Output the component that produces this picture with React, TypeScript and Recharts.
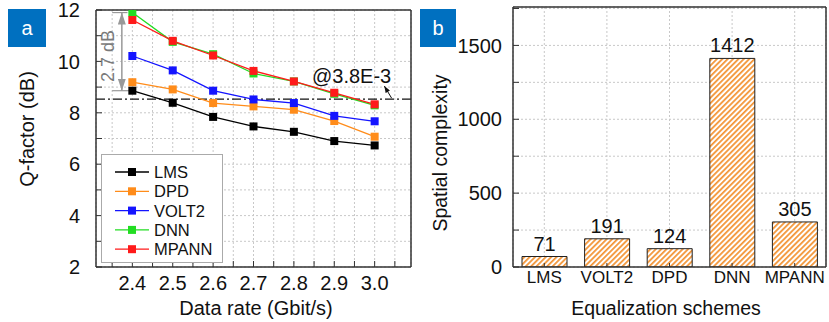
import React from 'react';
import {
  LineChart, Line, BarChart, Bar, XAxis, YAxis, CartesianGrid,
  ReferenceLine, ReferenceDot, LabelList,
} from 'recharts';

const FONT = 'Arial, "Liberation Sans", sans-serif';
const AXIS = '#333';
const GRID = '#c8c8c8';

// panel a: Q-factor vs data rate
const rates = [2.4, 2.5, 2.6, 2.7, 2.8, 2.9, 3.0];
const lms = [8.86, 8.39, 7.84, 7.47, 7.26, 6.9, 6.73];
const dpd = [9.19, 8.91, 8.38, 8.25, 8.12, 7.68, 7.07];
const volt2 = [10.21, 9.65, 8.86, 8.52, 8.38, 7.88, 7.67];
const dnn = [11.9, 10.76, 10.28, 9.53, 9.22, 8.74, 8.29];
const mpann = [11.61, 10.8, 10.23, 9.63, 9.22, 8.78, 8.33];
const threshold = 8.53;

const rateTicks = [2.35, 2.4, 2.45, 2.5, 2.55, 2.6, 2.65, 2.7, 2.75, 2.8, 2.85, 2.9, 2.95, 3.0, 3.05];
const qTicks = [2, 3, 4, 5, 6, 7, 8, 9, 10, 11, 12];

const series = [
  { name: 'LMS', values: lms, color: '#000000' },
  { name: 'DPD', values: dpd, color: '#ff8c1a' },
  { name: 'VOLT2', values: volt2, color: '#1414ff' },
  { name: 'DNN', values: dnn, color: '#22dd22' },
  { name: 'MPANN', values: mpann, color: '#ff1a1a' },
];

// panel b: spatial complexity
const schemes = ['LMS', 'VOLT2', 'DPD', 'DNN', 'MPANN'];
const complexity = [71, 191, 124, 1412, 305];
const complexityTicks = [0, 250, 500, 750, 1000, 1250, 1500, 1750];

const lineData = rates.map((r, i) => {
  const row: Record<string, number> = { rate: r };
  series.forEach((s) => { row[s.name] = s.values[i]; });
  return row;
});
const barData = schemes.map((s, i) => ({ scheme: s, value: complexity[i] }));

const fmtRate = (v: number) => (Math.round(v * 100) % 10 === 0 ? v.toFixed(1) : '');
const fmtQ = (v: number) => (v % 2 === 0 ? String(v) : '');
const fmtC = (v: number) => (v % 500 === 0 ? String(v) : '');

const squareDot = (color: string) => (p: any) => (
  <rect key={`${color}-${p.index}`} x={p.cx - 4} y={p.cy - 4} width={8} height={8} fill={color} />
);

const tickStyle = { fontSize: 20, fill: '#111', fontFamily: FONT };
const axisLine = { stroke: AXIS, strokeWidth: 1.5 };
const tickLine = { stroke: AXIS, strokeWidth: 1 };

function PanelA() {
  const xDom: [number, number] = [2.31, 3.09];
  return (
    <LineChart width={420} height={322} data={lineData} margin={{ top: 9, right: 8, bottom: 0, left: 0 }}>
      <CartesianGrid stroke={GRID} strokeDasharray="2 2" />
      <XAxis dataKey="rate" type="number" domain={xDom} allowDataOverflow ticks={rateTicks} interval={0}
        tickFormatter={fmtRate} height={55} tickSize={-6} tickMargin={15}
        axisLine={axisLine} tickLine={tickLine} tick={tickStyle} />
      <XAxis xAxisId="top" orientation="top" type="number" domain={xDom} allowDataOverflow ticks={rateTicks}
        interval={0} height={1} tickSize={-6} tick={false} axisLine={axisLine} tickLine={tickLine} />
      <YAxis type="number" domain={[2, 12]} allowDataOverflow ticks={qTicks} interval={0} tickFormatter={fmtQ}
        width={96} tickSize={-6} tickMargin={22} axisLine={axisLine} tickLine={tickLine} tick={tickStyle} />
      <YAxis yAxisId="r" orientation="right" type="number" domain={[2, 12]} allowDataOverflow ticks={qTicks}
        interval={0} width={1} tickSize={-6} tick={false} axisLine={axisLine} tickLine={tickLine} />
      <ReferenceLine y={threshold} stroke="#111" strokeWidth={1.3} strokeDasharray="9 3 2 3" />
      <ReferenceLine
        segment={[{ x: 2.374, y: dnn[0] }, { x: 2.374, y: lms[0] }]}
        shape={(p: any) => (
          <line x1={p.x1} y1={p.y1} x2={p.x2} y2={p.y2} stroke="#999" strokeWidth={1.5}
            markerStart="url(#arrGray)" markerEnd="url(#arrGray)" />
        )}
      />
      <ReferenceLine segment={[{ x: 2.35, y: dnn[0] }, { x: 2.388, y: dnn[0] }]} stroke="#999" strokeWidth={1.2} />
      <ReferenceLine segment={[{ x: 2.35, y: lms[0] }, { x: 2.395, y: lms[0] }]} stroke="#999" strokeWidth={1.2} />
      <ReferenceDot x={2.339} y={10.21} r={0}
        shape={(p: any) => (
          <text x={p.cx} y={p.cy} transform={`rotate(-90 ${p.cx} ${p.cy})`} textAnchor="middle"
            dominantBaseline="central" fontSize={18} fill="#7a7a7a" fontFamily={FONT}>2.7 dB</text>
        )}
      />
      <ReferenceDot x={2.943} y={9.45} r={0}
        shape={(p: any) => (
          <text x={p.cx} y={p.cy} textAnchor="middle" dominantBaseline="central" fontSize={20}
            fill="#111" fontFamily={FONT}>@3.8E-3</text>
        )}
      />
      <ReferenceLine
        segment={[{ x: 3.042, y: threshold + 0.04 }, { x: 3.024, y: 9.04 }]}
        shape={(p: any) => (
          <line x1={p.x1} y1={p.y1} x2={p.x2} y2={p.y2} stroke="#111" strokeWidth={1} markerEnd="url(#arrBlack)" />
        )}
      />
      {series.map((s) => (
        <Line key={s.name} dataKey={s.name} stroke={s.color} strokeWidth={1.3}
          dot={squareDot(s.color)} activeDot={false} isAnimationActive={false} />
      ))}
    </LineChart>
  );
}

function PanelB() {
  return (
    <BarChart width={409} height={322} data={barData} margin={{ top: 6, right: 2, bottom: 0, left: 0 }}>
      <CartesianGrid stroke={GRID} strokeDasharray="2 2" />
      <XAxis dataKey="scheme" height={55} interval={0} tickSize={-4} tickMargin={8}
        axisLine={axisLine} tickLine={tickLine} tick={{ ...tickStyle, fontSize: 17 }} />
      <XAxis xAxisId="top" orientation="top" dataKey="scheme" height={1} tick={false} tickLine={false} axisLine={axisLine} />
      <YAxis type="number" domain={[0, 1760]} allowDataOverflow ticks={complexityTicks} interval={0}
        tickFormatter={fmtC} width={93} tickSize={-6} tickMargin={17}
        axisLine={axisLine} tickLine={tickLine} tick={tickStyle} />
      <YAxis yAxisId="r" orientation="right" type="number" domain={[0, 1760]} allowDataOverflow
        ticks={complexityTicks} interval={0} width={1} tickSize={-6} tick={false}
        axisLine={axisLine} tickLine={tickLine} />
      <Bar dataKey="value" barSize={45} fill="url(#hatch)" stroke="#222" strokeWidth={1} isAnimationActive={false}>
        <LabelList dataKey="value" position="top" offset={6} fontSize={20} fill="#111" fontFamily={FONT} />
      </Bar>
    </BarChart>
  );
}

function Overlay() {
  const text = { fontFamily: FONT, fill: '#111' };
  return (
    <svg width={829} height={322} style={{ position: 'absolute', left: 0, top: 0, pointerEvents: 'none' }}>
      <rect x={8} y={9} width={38} height={38} fill="#0070c0" />
      <text x={27} y={28} textAnchor="middle" dominantBaseline="central" fontSize={20} fill="#fff" fontFamily={FONT}>a</text>
      <rect x={420} y={9} width={36} height={38} fill="#0070c0" />
      <text x={438} y={28} textAnchor="middle" dominantBaseline="central" fontSize={20} fill="#fff" fontFamily={FONT}>b</text>

      <text x={27} y={129} transform="rotate(-90 27 129)" textAnchor="middle" dominantBaseline="central" fontSize={20} {...text}>Q-factor (dB)</text>
      <text x={256} y={308} textAnchor="middle" dominantBaseline="central" fontSize={20} {...text}>Data rate (Gbit/s)</text>
      <text x={440} y={153} transform="rotate(-90 440 153)" textAnchor="middle" dominantBaseline="central" fontSize={19.5} {...text}>Spatial complexity</text>
      <text x={666} y={308} textAnchor="middle" dominantBaseline="central" fontSize={19.5} {...text}>Equalization schemes</text>

      <rect x={101.5} y={154.5} width={121} height={108} fill="#fff" stroke="#aaa" strokeWidth={1} />
      {series.map((s, i) => {
        const y = 172 + i * 19.3;
        return (
          <g key={s.name}>
            <line x1={115} x2={149} y1={y} y2={y} stroke={s.color} strokeWidth={1.3} />
            <rect x={128} y={y - 4} width={8} height={8} fill={s.color} />
            <text x={154} y={y} dominantBaseline="central" fontSize={16.5} {...text}>{s.name}</text>
          </g>
        );
      })}
    </svg>
  );
}

export default function App() {
  return (
    <div style={{ position: 'absolute', left: 0, top: 0, width: 829, height: 322, background: '#fff', fontFamily: FONT }}>
      <svg width={0} height={0} style={{ position: 'absolute' }}>
        <defs>
          <pattern id="hatch" patternUnits="userSpaceOnUse" width={3.8} height={3.8} patternTransform="rotate(45)">
            <rect width={3.8} height={3.8} fill="#fff" />
            <line x1={0.9} y1={0} x2={0.9} y2={3.8} stroke="#f28a22" strokeWidth={1.6} />
          </pattern>
          <marker id="arrGray" viewBox="0 0 12 8" refX={12} refY={4} markerWidth={12} markerHeight={8}
            markerUnits="userSpaceOnUse" orient="auto-start-reverse">
            <path d="M0,0 L12,4 L0,8 z" fill="#999" />
          </marker>
          <marker id="arrBlack" viewBox="0 0 8 6" refX={8} refY={3} markerWidth={7} markerHeight={5}
            markerUnits="userSpaceOnUse" orient="auto">
            <path d="M0,0 L8,3 L0,6 z" fill="#111" />
          </marker>
        </defs>
      </svg>
      <div style={{ position: 'absolute', left: 0, top: 0 }}><PanelA /></div>
      <div style={{ position: 'absolute', left: 420, top: 0 }}><PanelB /></div>
      <Overlay />
    </div>
  );
}
